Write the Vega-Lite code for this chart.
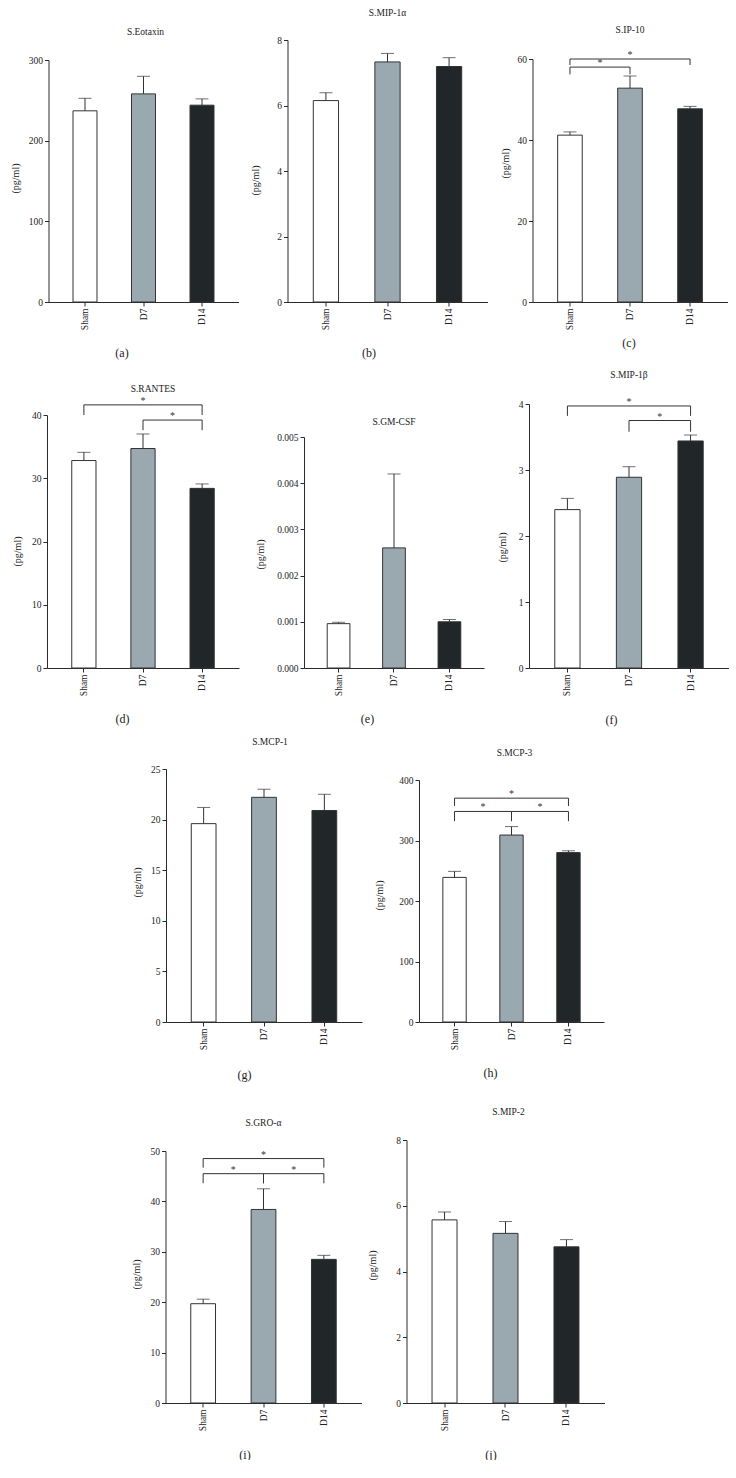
{
"$schema": "https://vega.github.io/schema/vega-lite/v6.json",
"padding": {"left": 10, "top": 8, "right": 0, "bottom": 0},
"background": "white",
"config": {
 "font": "Liberation Serif",
 "view": {"stroke": null},
 "axis": {"grid": false, "domainColor": "#2a2a2a", "tickColor": "#2a2a2a", "labelColor": "#222222", "titleColor": "#222222", "labelFont": "Liberation Serif", "titleFont": "Liberation Serif", "labelFontSize": 9.5, "titleFontSize": 10, "titleFontWeight": "normal", "tickSize": 4, "labelPadding": 2, "domainWidth": 1, "tickWidth": 1},
 "axisX": {"labelAngle": -90, "titleFontSize": 12, "titleBaseline": "middle"},
 "axisY": {"titleBaseline": "middle"},
 "title": {"font": "Liberation Serif", "fontSize": 9.5, "fontWeight": "normal", "color": "#222222", "anchor": "middle", "frame": "group", "baseline": "bottom"}
},
"datasets": {
 "bars": [
  {"panel": "a", "group": "Sham", "mean": 237, "upper": 252.5},
  {"panel": "a", "group": "D7", "mean": 258, "upper": 279.8},
  {"panel": "a", "group": "D14", "mean": 244, "upper": 251.8},
  {"panel": "b", "group": "Sham", "mean": 6.15, "upper": 6.39},
  {"panel": "b", "group": "D7", "mean": 7.33, "upper": 7.59},
  {"panel": "b", "group": "D14", "mean": 7.19, "upper": 7.46},
  {"panel": "c", "group": "Sham", "mean": 41.2, "upper": 42.0},
  {"panel": "c", "group": "D7", "mean": 52.8, "upper": 55.8},
  {"panel": "c", "group": "D14", "mean": 47.7, "upper": 48.3},
  {"panel": "d", "group": "Sham", "mean": 32.8, "upper": 34.1},
  {"panel": "d", "group": "D7", "mean": 34.7, "upper": 37.0},
  {"panel": "d", "group": "D14", "mean": 28.4, "upper": 29.1},
  {"panel": "e", "group": "Sham", "mean": 0.00096, "upper": 0.00099},
  {"panel": "e", "group": "D7", "mean": 0.0026, "upper": 0.0042},
  {"panel": "e", "group": "D14", "mean": 0.001, "upper": 0.00105},
  {"panel": "f", "group": "Sham", "mean": 2.40, "upper": 2.57},
  {"panel": "f", "group": "D7", "mean": 2.89, "upper": 3.05},
  {"panel": "f", "group": "D14", "mean": 3.44, "upper": 3.53},
  {"panel": "g", "group": "Sham", "mean": 19.6, "upper": 21.2},
  {"panel": "g", "group": "D7", "mean": 22.2, "upper": 23.0},
  {"panel": "g", "group": "D14", "mean": 20.9, "upper": 22.5},
  {"panel": "h", "group": "Sham", "mean": 239, "upper": 249},
  {"panel": "h", "group": "D7", "mean": 309, "upper": 323},
  {"panel": "h", "group": "D14", "mean": 280, "upper": 283},
  {"panel": "i", "group": "Sham", "mean": 19.7, "upper": 20.6},
  {"panel": "i", "group": "D7", "mean": 38.4, "upper": 42.5},
  {"panel": "i", "group": "D14", "mean": 28.5, "upper": 29.3},
  {"panel": "j", "group": "Sham", "mean": 5.57, "upper": 5.81},
  {"panel": "j", "group": "D7", "mean": 5.16, "upper": 5.52},
  {"panel": "j", "group": "D14", "mean": 4.75, "upper": 4.97}
 ],
 "sig": [
  {"panel": "c", "from": "Sham", "to": "D14", "mid": "D7", "line": 60, "drop": 58.5},
  {"panel": "c", "from": "Sham", "to": "D7", "mid": "Sham-D7", "line": 58, "drop": 56.2},
  {"panel": "d", "from": "Sham", "to": "D14", "mid": "D7", "line": 41.6, "drop": 40.0},
  {"panel": "d", "from": "D7", "to": "D14", "mid": "D7-D14", "line": 39.2, "drop": 37.6},
  {"panel": "f", "from": "Sham", "to": "D14", "mid": "D7", "line": 3.97, "drop": 3.82},
  {"panel": "f", "from": "D7", "to": "D14", "mid": "D7-D14", "line": 3.75, "drop": 3.58},
  {"panel": "h", "from": "Sham", "to": "D14", "mid": "D7", "line": 370, "drop": 357},
  {"panel": "h", "from": "Sham", "to": "D7", "mid": "Sham-D7", "line": 348, "drop": 332},
  {"panel": "h", "from": "D7", "to": "D14", "mid": "D7-D14", "line": 348, "drop": 332},
  {"panel": "i", "from": "Sham", "to": "D14", "mid": "D7", "line": 48.5, "drop": 46.7},
  {"panel": "i", "from": "Sham", "to": "D7", "mid": "Sham-D7", "line": 45.5, "drop": 43.6},
  {"panel": "i", "from": "D7", "to": "D14", "mid": "D7-D14", "line": 45.5, "drop": 43.6}
 ]
},
"center": true,
"spacing": 12,
"vconcat": [
 {"spacing": 12, "center": true, "vconcat": [
  {"hconcat": [
   {"width": 194, "height": 262, "title": {"text": "S.Eotaxin", "offset": 4},
    "layer": [
     {"data": {"name": "bars"}, "transform": [{"filter": "datum.panel === 'a'"}],
      "mark": {"type": "bar", "stroke": "#333333", "strokeWidth": 1},
      "encoding": {
       "x": {"field": "group", "type": "nominal", "scale": {"domain": ["Sham", "Sham-D7", "D7", "D7-D14", "D14"], "range": [0, 190], "paddingInner": 0.18, "paddingOuter": 0.8376}, "axis": {"values": ["Sham", "D7", "D14"], "title": "(a)", "titleX": 73, "titleY": 50}},
       "y": {"field": "mean", "type": "quantitative", "scale": {"domain": [0, 300], "range": [262, 20], "nice": false}, "axis": {"values": [0, 100, 200, 300], "format": "d", "title": "(pg/ml)", "titleX": -33, "titleY": 138}},
       "fill": {"field": "group", "type": "nominal", "scale": {"domain": ["Sham", "D7", "D14"], "range": ["#ffffff", "#9aa9b0", "#212628"]}, "legend": null}}},
     {"data": {"name": "bars"}, "transform": [{"filter": "datum.panel === 'a'"}],
      "mark": {"type": "rule", "color": "#333333", "strokeWidth": 1},
      "encoding": {
       "x": {"field": "group", "type": "nominal"},
       "y": {"field": "mean", "type": "quantitative"},
       "y2": {"field": "upper"}}},
     {"data": {"name": "bars"}, "transform": [{"filter": "datum.panel === 'a'"}],
      "mark": {"type": "tick", "color": "#333333", "size": 13, "thickness": 1},
      "encoding": {
       "x": {"field": "group", "type": "nominal"},
       "y": {"field": "upper", "type": "quantitative"}}}
    ]},
   {"width": 200, "height": 262, "title": {"text": "S.MIP-1α", "offset": 17.5},
    "layer": [
     {"data": {"name": "bars"}, "transform": [{"filter": "datum.panel === 'b'"}],
      "mark": {"type": "bar", "stroke": "#333333", "strokeWidth": 1},
      "encoding": {
       "x": {"field": "group", "type": "nominal", "scale": {"domain": ["Sham", "Sham-D7", "D7", "D7-D14", "D14"], "range": [0, 200], "paddingInner": 0.18, "paddingOuter": 0.8376}, "axis": {"values": ["Sham", "D7", "D14"], "title": "(b)", "titleX": 81, "titleY": 50}},
       "y": {"field": "mean", "type": "quantitative", "scale": {"domain": [0, 8], "range": [262, 0], "nice": false}, "axis": {"values": [0, 2, 4, 6, 8], "format": "d", "title": "(pg/ml)", "titleX": -32, "titleY": 140}},
       "fill": {"field": "group", "type": "nominal", "scale": {"domain": ["Sham", "D7", "D14"], "range": ["#ffffff", "#9aa9b0", "#212628"]}, "legend": null}}},
     {"data": {"name": "bars"}, "transform": [{"filter": "datum.panel === 'b'"}],
      "mark": {"type": "rule", "color": "#333333", "strokeWidth": 1},
      "encoding": {
       "x": {"field": "group", "type": "nominal"},
       "y": {"field": "mean", "type": "quantitative"},
       "y2": {"field": "upper"}}},
     {"data": {"name": "bars"}, "transform": [{"filter": "datum.panel === 'b'"}],
      "mark": {"type": "tick", "color": "#333333", "size": 13, "thickness": 1},
      "encoding": {
       "x": {"field": "group", "type": "nominal"},
       "y": {"field": "upper", "type": "quantitative"}}}
    ]},
   {"width": 195, "height": 262, "title": {"text": "S.IP-10", "offset": 6},
    "layer": [
     {"data": {"name": "bars"}, "transform": [{"filter": "datum.panel === 'c'"}],
      "mark": {"type": "bar", "stroke": "#333333", "strokeWidth": 1},
      "encoding": {
       "x": {"field": "group", "type": "nominal", "scale": {"domain": ["Sham", "Sham-D7", "D7", "D7-D14", "D14"], "range": [0, 195], "paddingInner": 0.18, "paddingOuter": 0.8376}, "axis": {"values": ["Sham", "D7", "D14"], "title": "(c)", "titleX": 96, "titleY": 40}},
       "y": {"field": "mean", "type": "quantitative", "scale": {"domain": [0, 60], "range": [262, 19], "nice": false}, "axis": {"values": [0, 20, 40, 60], "format": "d", "title": "(pg/ml)", "titleX": -27, "titleY": 123}},
       "fill": {"field": "group", "type": "nominal", "scale": {"domain": ["Sham", "D7", "D14"], "range": ["#ffffff", "#9aa9b0", "#212628"]}, "legend": null}}},
     {"data": {"name": "bars"}, "transform": [{"filter": "datum.panel === 'c'"}],
      "mark": {"type": "rule", "color": "#333333", "strokeWidth": 1},
      "encoding": {
       "x": {"field": "group", "type": "nominal"},
       "y": {"field": "mean", "type": "quantitative"},
       "y2": {"field": "upper"}}},
     {"data": {"name": "bars"}, "transform": [{"filter": "datum.panel === 'c'"}],
      "mark": {"type": "tick", "color": "#333333", "size": 13, "thickness": 1},
      "encoding": {
       "x": {"field": "group", "type": "nominal"},
       "y": {"field": "upper", "type": "quantitative"}}},
     {"data": {"name": "sig"}, "transform": [{"filter": "datum.panel === 'c'"}],
      "mark": {"type": "rule", "color": "#333333", "strokeWidth": 1},
      "encoding": {
       "x": {"field": "from", "type": "nominal"},
       "x2": {"field": "to"},
       "y": {"field": "line", "type": "quantitative"}}},
     {"data": {"name": "sig"}, "transform": [{"filter": "datum.panel === 'c'"}],
      "mark": {"type": "rule", "color": "#333333", "strokeWidth": 1},
      "encoding": {
       "x": {"field": "from", "type": "nominal"},
       "y": {"field": "line", "type": "quantitative"},
       "y2": {"field": "drop"}}},
     {"data": {"name": "sig"}, "transform": [{"filter": "datum.panel === 'c'"}],
      "mark": {"type": "rule", "color": "#333333", "strokeWidth": 1},
      "encoding": {
       "x": {"field": "to", "type": "nominal"},
       "y": {"field": "line", "type": "quantitative"},
       "y2": {"field": "drop"}}},
     {"data": {"name": "sig"}, "transform": [{"filter": "datum.panel === 'c'"}],
      "mark": {"type": "text", "text": "*", "fontSize": 10, "baseline": "alphabetic", "dy": -1, "color": "#333333"},
      "encoding": {
       "x": {"field": "mid", "type": "nominal"},
       "y": {"field": "line", "type": "quantitative"}}}
    ]}
  ], "spacing": 45, "bounds": "flush"},
  {"hconcat": [
   {"width": 212, "height": 264, "title": {"text": "S.RANTES", "offset": 2},
    "layer": [
     {"data": {"name": "bars"}, "transform": [{"filter": "datum.panel === 'd'"}],
      "mark": {"type": "bar", "stroke": "#333333", "strokeWidth": 1},
      "encoding": {
       "x": {"field": "group", "type": "nominal", "scale": {"domain": ["Sham", "Sham-D7", "D7", "D7-D14", "D14"], "range": [0, 192], "paddingInner": 0.18, "paddingOuter": 0.8376}, "axis": {"values": ["Sham", "D7", "D14"], "title": "(d)", "titleX": 75, "titleY": 50}},
       "y": {"field": "mean", "type": "quantitative", "scale": {"domain": [0, 40], "range": [264, 11], "nice": false}, "axis": {"values": [0, 10, 20, 30, 40], "format": "d", "title": "(pg/ml)", "titleX": -30, "titleY": 147}},
       "fill": {"field": "group", "type": "nominal", "scale": {"domain": ["Sham", "D7", "D14"], "range": ["#ffffff", "#9aa9b0", "#212628"]}, "legend": null}}},
     {"data": {"name": "bars"}, "transform": [{"filter": "datum.panel === 'd'"}],
      "mark": {"type": "rule", "color": "#333333", "strokeWidth": 1},
      "encoding": {
       "x": {"field": "group", "type": "nominal"},
       "y": {"field": "mean", "type": "quantitative"},
       "y2": {"field": "upper"}}},
     {"data": {"name": "bars"}, "transform": [{"filter": "datum.panel === 'd'"}],
      "mark": {"type": "tick", "color": "#333333", "size": 13, "thickness": 1},
      "encoding": {
       "x": {"field": "group", "type": "nominal"},
       "y": {"field": "upper", "type": "quantitative"}}},
     {"data": {"name": "sig"}, "transform": [{"filter": "datum.panel === 'd'"}],
      "mark": {"type": "rule", "color": "#333333", "strokeWidth": 1},
      "encoding": {
       "x": {"field": "from", "type": "nominal"},
       "x2": {"field": "to"},
       "y": {"field": "line", "type": "quantitative"}}},
     {"data": {"name": "sig"}, "transform": [{"filter": "datum.panel === 'd'"}],
      "mark": {"type": "rule", "color": "#333333", "strokeWidth": 1},
      "encoding": {
       "x": {"field": "from", "type": "nominal"},
       "y": {"field": "line", "type": "quantitative"},
       "y2": {"field": "drop"}}},
     {"data": {"name": "sig"}, "transform": [{"filter": "datum.panel === 'd'"}],
      "mark": {"type": "rule", "color": "#333333", "strokeWidth": 1},
      "encoding": {
       "x": {"field": "to", "type": "nominal"},
       "y": {"field": "line", "type": "quantitative"},
       "y2": {"field": "drop"}}},
     {"data": {"name": "sig"}, "transform": [{"filter": "datum.panel === 'd'"}],
      "mark": {"type": "text", "text": "*", "fontSize": 10, "baseline": "alphabetic", "dy": -1, "color": "#333333"},
      "encoding": {
       "x": {"field": "mid", "type": "nominal"},
       "y": {"field": "line", "type": "quantitative"}}}
    ]},
   {"width": 180, "height": 264, "title": {"text": "S.GM-CSF", "offset": -22},
    "layer": [
     {"data": {"name": "bars"}, "transform": [{"filter": "datum.panel === 'e'"}],
      "mark": {"type": "bar", "stroke": "#333333", "strokeWidth": 1},
      "encoding": {
       "x": {"field": "group", "type": "nominal", "scale": {"domain": ["Sham", "Sham-D7", "D7", "D7-D14", "D14"], "range": [0, 180], "paddingInner": 0.18, "paddingOuter": 0.8376}, "axis": {"values": ["Sham", "D7", "D14"], "title": "(e)", "titleX": 63, "titleY": 50}},
       "y": {"field": "mean", "type": "quantitative", "scale": {"domain": [0, 0.005], "range": [264, 33], "nice": false}, "axis": {"values": [0, 0.001, 0.002, 0.003, 0.004, 0.005], "format": ".3f", "title": "(pg/ml)", "titleX": -44, "titleY": 150}},
       "fill": {"field": "group", "type": "nominal", "scale": {"domain": ["Sham", "D7", "D14"], "range": ["#ffffff", "#9aa9b0", "#212628"]}, "legend": null}}},
     {"data": {"name": "bars"}, "transform": [{"filter": "datum.panel === 'e'"}],
      "mark": {"type": "rule", "color": "#333333", "strokeWidth": 1},
      "encoding": {
       "x": {"field": "group", "type": "nominal"},
       "y": {"field": "mean", "type": "quantitative"},
       "y2": {"field": "upper"}}},
     {"data": {"name": "bars"}, "transform": [{"filter": "datum.panel === 'e'"}],
      "mark": {"type": "tick", "color": "#333333", "size": 13, "thickness": 1},
      "encoding": {
       "x": {"field": "group", "type": "nominal"},
       "y": {"field": "upper", "type": "quantitative"}}}
    ]},
   {"width": 200, "height": 264, "title": {"text": "S.MIP-1β", "offset": 17},
    "layer": [
     {"data": {"name": "bars"}, "transform": [{"filter": "datum.panel === 'f'"}],
      "mark": {"type": "bar", "stroke": "#333333", "strokeWidth": 1},
      "encoding": {
       "x": {"field": "group", "type": "nominal", "scale": {"domain": ["Sham", "Sham-D7", "D7", "D7-D14", "D14"], "range": [0, 200], "paddingInner": 0.18, "paddingOuter": 0.8376}, "axis": {"values": ["Sham", "D7", "D14"], "title": "(f)", "titleX": 82, "titleY": 51}},
       "y": {"field": "mean", "type": "quantitative", "scale": {"domain": [0, 4], "range": [264, 0], "nice": false}, "axis": {"values": [0, 1, 2, 3, 4], "format": "d", "title": "(pg/ml)", "titleX": -27, "titleY": 143}},
       "fill": {"field": "group", "type": "nominal", "scale": {"domain": ["Sham", "D7", "D14"], "range": ["#ffffff", "#9aa9b0", "#212628"]}, "legend": null}}},
     {"data": {"name": "bars"}, "transform": [{"filter": "datum.panel === 'f'"}],
      "mark": {"type": "rule", "color": "#333333", "strokeWidth": 1},
      "encoding": {
       "x": {"field": "group", "type": "nominal"},
       "y": {"field": "mean", "type": "quantitative"},
       "y2": {"field": "upper"}}},
     {"data": {"name": "bars"}, "transform": [{"filter": "datum.panel === 'f'"}],
      "mark": {"type": "tick", "color": "#333333", "size": 13, "thickness": 1},
      "encoding": {
       "x": {"field": "group", "type": "nominal"},
       "y": {"field": "upper", "type": "quantitative"}}},
     {"data": {"name": "sig"}, "transform": [{"filter": "datum.panel === 'f'"}],
      "mark": {"type": "rule", "color": "#333333", "strokeWidth": 1},
      "encoding": {
       "x": {"field": "from", "type": "nominal"},
       "x2": {"field": "to"},
       "y": {"field": "line", "type": "quantitative"}}},
     {"data": {"name": "sig"}, "transform": [{"filter": "datum.panel === 'f'"}],
      "mark": {"type": "rule", "color": "#333333", "strokeWidth": 1},
      "encoding": {
       "x": {"field": "from", "type": "nominal"},
       "y": {"field": "line", "type": "quantitative"},
       "y2": {"field": "drop"}}},
     {"data": {"name": "sig"}, "transform": [{"filter": "datum.panel === 'f'"}],
      "mark": {"type": "rule", "color": "#333333", "strokeWidth": 1},
      "encoding": {
       "x": {"field": "to", "type": "nominal"},
       "y": {"field": "line", "type": "quantitative"},
       "y2": {"field": "drop"}}},
     {"data": {"name": "sig"}, "transform": [{"filter": "datum.panel === 'f'"}],
      "mark": {"type": "text", "text": "*", "fontSize": 10, "baseline": "alphabetic", "dy": -1, "color": "#333333"},
      "encoding": {
       "x": {"field": "mid", "type": "nominal"},
       "y": {"field": "line", "type": "quantitative"}}}
    ]}
  ], "spacing": 45, "bounds": "flush"}
 ]},
 {"spacing": 27, "center": true, "vconcat": [
  {"hconcat": [
   {"width": 208, "height": 253, "title": {"text": "S.MCP-1", "offset": 17.5},
    "layer": [
     {"data": {"name": "bars"}, "transform": [{"filter": "datum.panel === 'g'"}],
      "mark": {"type": "bar", "stroke": "#333333", "strokeWidth": 1},
      "encoding": {
       "x": {"field": "group", "type": "nominal", "scale": {"domain": ["Sham", "Sham-D7", "D7", "D7-D14", "D14"], "range": [0, 196], "paddingInner": 0.18, "paddingOuter": 0.8376}, "axis": {"values": ["Sham", "D7", "D14"], "title": "(g)", "titleX": 78, "titleY": 52}},
       "y": {"field": "mean", "type": "quantitative", "scale": {"domain": [0, 25], "range": [253, 0], "nice": false}, "axis": {"values": [0, 5, 10, 15, 20, 25], "format": "d", "title": "(pg/ml)", "titleX": -29, "titleY": 113}},
       "fill": {"field": "group", "type": "nominal", "scale": {"domain": ["Sham", "D7", "D14"], "range": ["#ffffff", "#9aa9b0", "#212628"]}, "legend": null}}},
     {"data": {"name": "bars"}, "transform": [{"filter": "datum.panel === 'g'"}],
      "mark": {"type": "rule", "color": "#333333", "strokeWidth": 1},
      "encoding": {
       "x": {"field": "group", "type": "nominal"},
       "y": {"field": "mean", "type": "quantitative"},
       "y2": {"field": "upper"}}},
     {"data": {"name": "bars"}, "transform": [{"filter": "datum.panel === 'g'"}],
      "mark": {"type": "tick", "color": "#333333", "size": 13, "thickness": 1},
      "encoding": {
       "x": {"field": "group", "type": "nominal"},
       "y": {"field": "upper", "type": "quantitative"}}}
    ]},
   {"width": 191, "height": 253, "title": {"text": "S.MCP-3", "offset": 12},
    "layer": [
     {"data": {"name": "bars"}, "transform": [{"filter": "datum.panel === 'h'"}],
      "mark": {"type": "bar", "stroke": "#333333", "strokeWidth": 1},
      "encoding": {
       "x": {"field": "group", "type": "nominal", "scale": {"domain": ["Sham", "Sham-D7", "D7", "D7-D14", "D14"], "range": [0, 185], "paddingInner": 0.18, "paddingOuter": 0.8376}, "axis": {"values": ["Sham", "D7", "D14"], "title": "(h)", "titleX": 71, "titleY": 50}},
       "y": {"field": "mean", "type": "quantitative", "scale": {"domain": [0, 400], "range": [253, 11], "nice": false}, "axis": {"values": [0, 100, 200, 300, 400], "format": "d", "title": "(pg/ml)", "titleX": -40, "titleY": 126}},
       "fill": {"field": "group", "type": "nominal", "scale": {"domain": ["Sham", "D7", "D14"], "range": ["#ffffff", "#9aa9b0", "#212628"]}, "legend": null}}},
     {"data": {"name": "bars"}, "transform": [{"filter": "datum.panel === 'h'"}],
      "mark": {"type": "rule", "color": "#333333", "strokeWidth": 1},
      "encoding": {
       "x": {"field": "group", "type": "nominal"},
       "y": {"field": "mean", "type": "quantitative"},
       "y2": {"field": "upper"}}},
     {"data": {"name": "bars"}, "transform": [{"filter": "datum.panel === 'h'"}],
      "mark": {"type": "tick", "color": "#333333", "size": 13, "thickness": 1},
      "encoding": {
       "x": {"field": "group", "type": "nominal"},
       "y": {"field": "upper", "type": "quantitative"}}},
     {"data": {"name": "sig"}, "transform": [{"filter": "datum.panel === 'h'"}],
      "mark": {"type": "rule", "color": "#333333", "strokeWidth": 1},
      "encoding": {
       "x": {"field": "from", "type": "nominal"},
       "x2": {"field": "to"},
       "y": {"field": "line", "type": "quantitative"}}},
     {"data": {"name": "sig"}, "transform": [{"filter": "datum.panel === 'h'"}],
      "mark": {"type": "rule", "color": "#333333", "strokeWidth": 1},
      "encoding": {
       "x": {"field": "from", "type": "nominal"},
       "y": {"field": "line", "type": "quantitative"},
       "y2": {"field": "drop"}}},
     {"data": {"name": "sig"}, "transform": [{"filter": "datum.panel === 'h'"}],
      "mark": {"type": "rule", "color": "#333333", "strokeWidth": 1},
      "encoding": {
       "x": {"field": "to", "type": "nominal"},
       "y": {"field": "line", "type": "quantitative"},
       "y2": {"field": "drop"}}},
     {"data": {"name": "sig"}, "transform": [{"filter": "datum.panel === 'h'"}],
      "mark": {"type": "text", "text": "*", "fontSize": 10, "baseline": "alphabetic", "dy": -1, "color": "#333333"},
      "encoding": {
       "x": {"field": "mid", "type": "nominal"},
       "y": {"field": "line", "type": "quantitative"}}}
    ]}
  ], "spacing": 45, "bounds": "flush"},
  {"hconcat": [
   {"width": 196, "height": 263, "title": {"text": "S.GRO-α", "offset": 13},
    "layer": [
     {"data": {"name": "bars"}, "transform": [{"filter": "datum.panel === 'i'"}],
      "mark": {"type": "bar", "stroke": "#333333", "strokeWidth": 1},
      "encoding": {
       "x": {"field": "group", "type": "nominal", "scale": {"domain": ["Sham", "Sham-D7", "D7", "D7-D14", "D14"], "range": [0, 196], "paddingInner": 0.18, "paddingOuter": 0.8376}, "axis": {"values": ["Sham", "D7", "D14"], "title": "(i)", "titleX": 79, "titleY": 51}},
       "y": {"field": "mean", "type": "quantitative", "scale": {"domain": [0, 50], "range": [263, 11], "nice": false}, "axis": {"values": [0, 10, 20, 30, 40, 50], "format": "d", "title": "(pg/ml)", "titleX": -29, "titleY": 134}},
       "fill": {"field": "group", "type": "nominal", "scale": {"domain": ["Sham", "D7", "D14"], "range": ["#ffffff", "#9aa9b0", "#212628"]}, "legend": null}}},
     {"data": {"name": "bars"}, "transform": [{"filter": "datum.panel === 'i'"}],
      "mark": {"type": "rule", "color": "#333333", "strokeWidth": 1},
      "encoding": {
       "x": {"field": "group", "type": "nominal"},
       "y": {"field": "mean", "type": "quantitative"},
       "y2": {"field": "upper"}}},
     {"data": {"name": "bars"}, "transform": [{"filter": "datum.panel === 'i'"}],
      "mark": {"type": "tick", "color": "#333333", "size": 13, "thickness": 1},
      "encoding": {
       "x": {"field": "group", "type": "nominal"},
       "y": {"field": "upper", "type": "quantitative"}}},
     {"data": {"name": "sig"}, "transform": [{"filter": "datum.panel === 'i'"}],
      "mark": {"type": "rule", "color": "#333333", "strokeWidth": 1},
      "encoding": {
       "x": {"field": "from", "type": "nominal"},
       "x2": {"field": "to"},
       "y": {"field": "line", "type": "quantitative"}}},
     {"data": {"name": "sig"}, "transform": [{"filter": "datum.panel === 'i'"}],
      "mark": {"type": "rule", "color": "#333333", "strokeWidth": 1},
      "encoding": {
       "x": {"field": "from", "type": "nominal"},
       "y": {"field": "line", "type": "quantitative"},
       "y2": {"field": "drop"}}},
     {"data": {"name": "sig"}, "transform": [{"filter": "datum.panel === 'i'"}],
      "mark": {"type": "rule", "color": "#333333", "strokeWidth": 1},
      "encoding": {
       "x": {"field": "to", "type": "nominal"},
       "y": {"field": "line", "type": "quantitative"},
       "y2": {"field": "drop"}}},
     {"data": {"name": "sig"}, "transform": [{"filter": "datum.panel === 'i'"}],
      "mark": {"type": "text", "text": "*", "fontSize": 10, "baseline": "alphabetic", "dy": -1, "color": "#333333"},
      "encoding": {
       "x": {"field": "mid", "type": "nominal"},
       "y": {"field": "line", "type": "quantitative"}}}
    ]},
   {"width": 204, "height": 263, "title": {"text": "S.MIP-2", "offset": 18.5},
    "layer": [
     {"data": {"name": "bars"}, "transform": [{"filter": "datum.panel === 'j'"}],
      "mark": {"type": "bar", "stroke": "#333333", "strokeWidth": 1},
      "encoding": {
       "x": {"field": "group", "type": "nominal", "scale": {"domain": ["Sham", "Sham-D7", "D7", "D7-D14", "D14"], "range": [0, 198], "paddingInner": 0.18, "paddingOuter": 0.8376}, "axis": {"values": ["Sham", "D7", "D14"], "title": "(j)", "titleX": 84, "titleY": 51}},
       "y": {"field": "mean", "type": "quantitative", "scale": {"domain": [0, 8], "range": [263, 0], "nice": false}, "axis": {"values": [0, 2, 4, 6, 8], "format": "d", "title": "(pg/ml)", "titleX": -34, "titleY": 125}},
       "fill": {"field": "group", "type": "nominal", "scale": {"domain": ["Sham", "D7", "D14"], "range": ["#ffffff", "#9aa9b0", "#212628"]}, "legend": null}}},
     {"data": {"name": "bars"}, "transform": [{"filter": "datum.panel === 'j'"}],
      "mark": {"type": "rule", "color": "#333333", "strokeWidth": 1},
      "encoding": {
       "x": {"field": "group", "type": "nominal"},
       "y": {"field": "mean", "type": "quantitative"},
       "y2": {"field": "upper"}}},
     {"data": {"name": "bars"}, "transform": [{"filter": "datum.panel === 'j'"}],
      "mark": {"type": "tick", "color": "#333333", "size": 13, "thickness": 1},
      "encoding": {
       "x": {"field": "group", "type": "nominal"},
       "y": {"field": "upper", "type": "quantitative"}}}
    ]}
  ], "spacing": 45, "bounds": "flush"}
 ]}
]
}
